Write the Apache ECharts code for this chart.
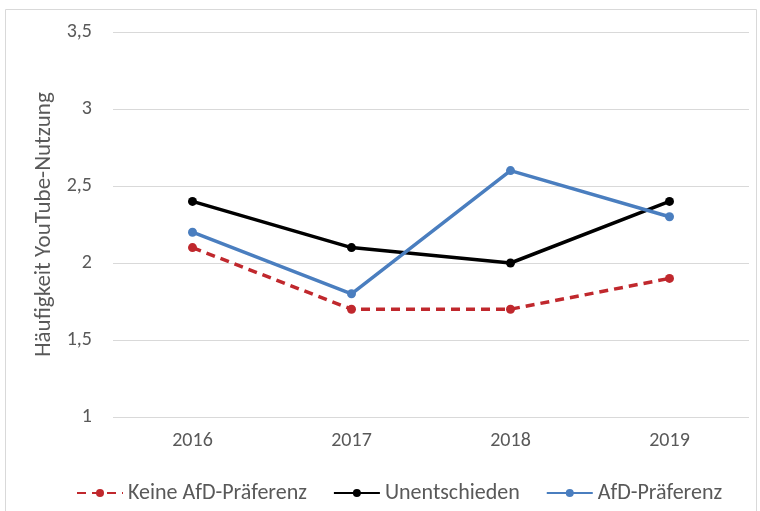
<!DOCTYPE html>
<html><head><meta charset="utf-8">
<script src="https://cdn.jsdelivr.net/npm/echarts@6/dist/echarts.min.js"></script>
<style>html,body{margin:0;padding:0;background:#fff}#c{width:760px;height:511px}</style>
</head><body><div id="c"></div>
<script>
const categories = ['2016', '2017', '2018', '2019'];
const keineAfD = [2.1, 1.7, 1.7, 1.9];
const unentschieden = [2.4, 2.1, 2.0, 2.4];
const afdPraeferenz = [2.2, 1.8, 2.6, 2.3];
const seriesNames = ['Keine AfD-Präferenz', 'Unentschieden', 'AfD-Präferenz'];
const yAxisName = 'Häufigkeit YouTube-Nutzung';

const font = 'Carlito, "Open Sans", "Liberation Sans", sans-serif';
const chart = echarts.init(document.getElementById('c'));
chart.setOption({
  animation: false,
  graphic: [{type: 'rect', shape: {x: 5.5, y: 9.5, width: 751, height: 520}, style: {fill: null, stroke: '#d9d9d9', lineWidth: 1}}],
  grid: {left: 113, right: 11, top: 32, bottom: 94},
  legend: {
    top: 477, left: 71, itemWidth: 46, itemHeight: 10, itemGap: 26,
    textStyle: {fontFamily: font, fontSize: 22, color: '#595959'},
    data: seriesNames
  },
  xAxis: {
    type: 'category', data: categories, boundaryGap: true,
    axisLine: {show: false}, axisTick: {show: false},
    axisLabel: {fontFamily: font, fontSize: 20, color: '#595959', margin: 14}
  },
  yAxis: {
    type: 'value', min: 1, max: 3.5, interval: 0.5,
    name: yAxisName, nameLocation: 'middle', nameGap: 56,
    nameTextStyle: {fontFamily: font, fontSize: 23, color: '#595959'},
    axisLabel: {fontFamily: font, fontSize: 20, color: '#595959', margin: 21,
      formatter: v => String(v).replace('.', ',')},
    splitLine: {lineStyle: {color: '#d9d9d9', width: 1}}
  },
  series: [
    {name: seriesNames[0], type: 'line', data: keineAfD, symbol: 'circle', symbolSize: 9,
      color: '#c0282d', lineStyle: {width: 3.5, type: [9, 6], color: '#c0282d'}, itemStyle: {color: '#c0282d'}},
    {name: seriesNames[1], type: 'line', data: unentschieden, symbol: 'circle', symbolSize: 9,
      color: '#000', lineStyle: {width: 3.5, color: '#000'}, itemStyle: {color: '#000'}},
    {name: seriesNames[2], type: 'line', data: afdPraeferenz, symbol: 'circle', symbolSize: 9,
      color: '#4a7ebf', lineStyle: {width: 3.5, color: '#4a7ebf'}, itemStyle: {color: '#4a7ebf'}}
  ]
});
</script></body></html>
